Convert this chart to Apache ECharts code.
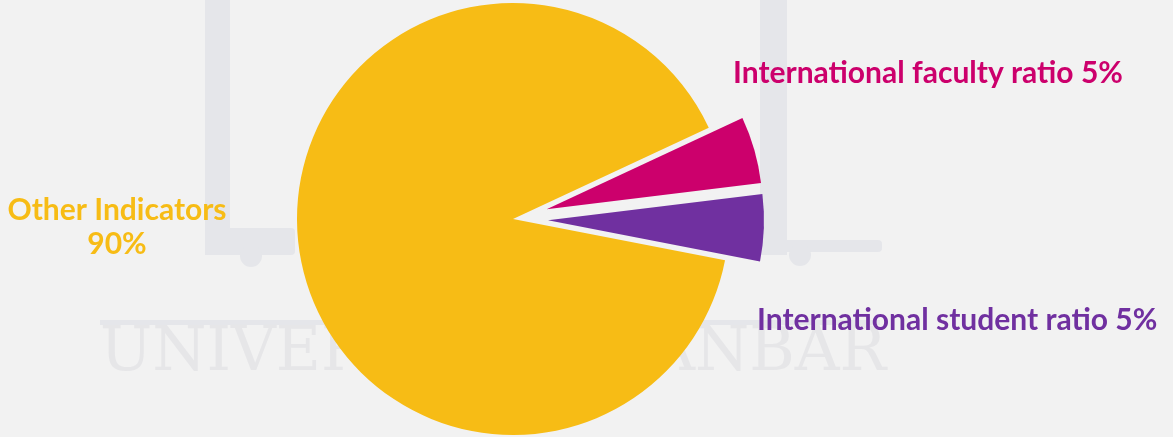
<!DOCTYPE html>
<html>
<head>
<meta charset="utf-8">
<script src="https://cdn.jsdelivr.net/npm/echarts@6/dist/echarts.min.js"></script>
<style>
  html, body { margin: 0; padding: 0; background: #f2f2f2; }
  #chart { width: 1173px; height: 437px; }
</style>
</head>
<body>
<div id="chart"></div>
<script>
// data
const names = ['International faculty ratio', 'International student ratio', 'Other Indicators'];
const values = [5, 5, 90];
const colors = ['#cc006c', '#7030a0', '#f7bc15'];
const exploded = [true, true, false];

// label anchor points (pixels) and alignment
const labelPos = [
  { x: 733, y: 73, align: 'left' },
  { x: 757, y: 320, align: 'left' },
  { x: 117, y: 227, align: 'center' }
];

const wm = '#e5e6ea';
const labelFont = 'bold 30px Lato, "Noto Sans", sans-serif';

// slice labels, built from the data arrays
const labelGraphics = names.map((n, i) => ({
  type: 'text',
  x: labelPos[i].x,
  y: labelPos[i].y,
  z: 10,
  style: {
    text: i === 2 ? n + '\n' + values[i] + '%' : n + ' ' + values[i] + '%',
    fill: colors[i],
    font: labelFont,
    lineHeight: 34,
    align: labelPos[i].align,
    verticalAlign: 'middle'
  }
}));

const chart = echarts.init(document.getElementById('chart'));

chart.setOption({
  backgroundColor: '#f2f2f2',
  animation: false,
  // faint university watermark behind the pie
  graphic: [
    { type: 'rect', z: -10, shape: { x: 205, y: 0, width: 25, height: 255 }, style: { fill: wm } },
    { type: 'rect', z: -10, shape: { x: 205, y: 228, width: 90, height: 27, r: 4 }, style: { fill: wm } },
    { type: 'circle', z: -10, shape: { cx: 251, cy: 256, r: 11 }, style: { fill: wm } },
    { type: 'rect', z: -10, shape: { x: 760, y: 0, width: 27, height: 255 }, style: { fill: wm } },
    { type: 'rect', z: -10, shape: { x: 760, y: 240, width: 122, height: 12, r: 4 }, style: { fill: wm } },
    { type: 'circle', z: -10, shape: { cx: 800, cy: 255, r: 11 }, style: { fill: wm } },
    { type: 'rect', z: -10, shape: { x: 100, y: 320, width: 780, height: 5 }, style: { fill: wm } },
    {
      type: 'text', z: -10, x: 100, y: 385,
      style: { text: 'UNIVERSITY OF ANBAR', fill: '#e6e6e8', font: '62px "DejaVu Serif", serif', verticalAlign: 'bottom' }
    }
  ].concat(labelGraphics),
  series: [
    {
      type: 'pie',
      center: [513, 219],
      radius: 216,
      startAngle: 25,
      selectedMode: 'multiple',
      selectedOffset: 35,
      emphasis: { disabled: true },
      select: { itemStyle: { borderWidth: 0 } },
      label: { show: false },
      labelLine: { show: false },
      data: names.map((n, i) => ({
        name: n,
        value: values[i],
        selected: exploded[i],
        itemStyle: { color: colors[i] }
      }))
    }
  ]
});
</script>
</body>
</html>
